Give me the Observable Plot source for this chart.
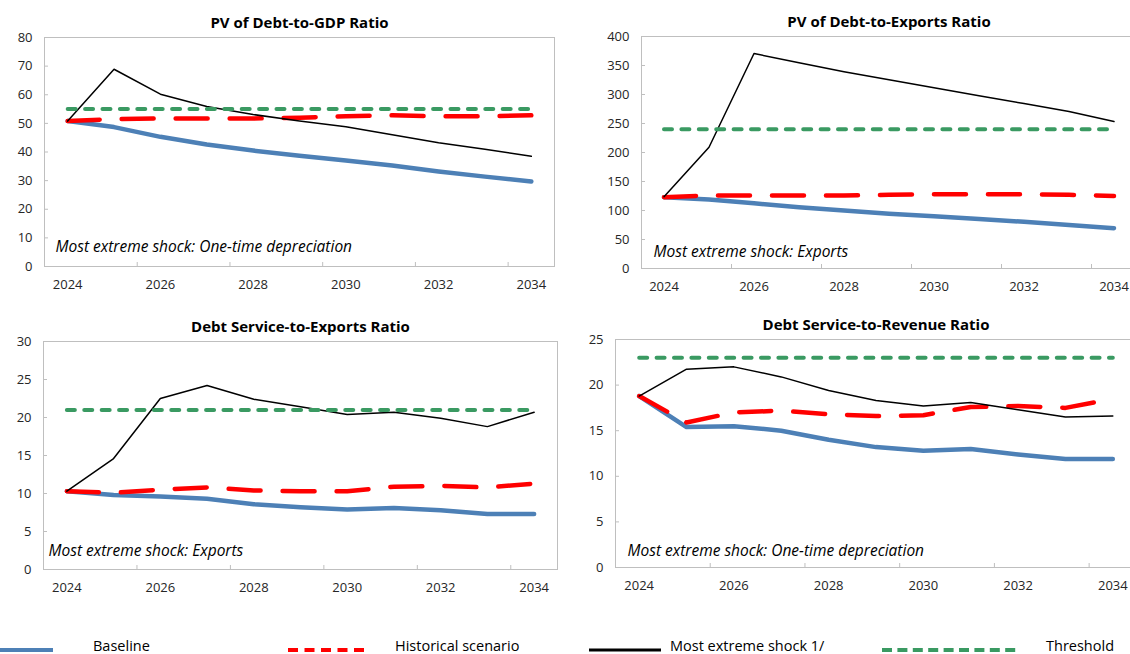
<!DOCTYPE html>
<html>
<head>
<meta charset="utf-8">
<script src="https://cdn.jsdelivr.net/npm/d3@7"></script>
<script src="https://cdn.jsdelivr.net/npm/@observablehq/plot@0.6"></script>
<style>
  body { margin: 0; background: #fff; }
  #wrap { position: relative; width: 1130px; height: 654px; overflow: hidden; font-family: "Open Sans", sans-serif; background: #fff; }
  #wrap > svg, #wrap > figure { position: absolute; margin: 0; }
</style>
</head>
<body>
<div id="wrap"></div>
<script>
// ---------- data ----------
const years = [2024, 2025, 2026, 2027, 2028, 2029, 2030, 2031, 2032, 2033, 2034];
const labelYears = [2024, 2026, 2028, 2030, 2032, 2034];
const tickBoundaries = [2025.5, 2027.5, 2029.5, 2031.5, 2033.5];

const seriesNames = ["Baseline", "Historical scenario", "Most extreme shock 1/", "Threshold"];

// PV of Debt-to-GDP Ratio
const gdpBaseline   = [50.8, 48.7, 45.3, 42.6, 40.5, 38.7, 37.0, 35.3, 33.2, 31.4, 29.7];
const gdpHistorical = [50.8, 51.5, 51.7, 51.7, 51.7, 52.0, 52.5, 52.8, 52.5, 52.5, 52.8];
const gdpShock      = [50.8, 68.9, 60.2, 55.9, 53.1, 50.8, 48.8, 46.0, 43.2, 41.0, 38.5];
const gdpThreshold  = [55, 55, 55, 55, 55, 55, 55, 55, 55, 55, 55];
const gdpTicks      = [0, 10, 20, 30, 40, 50, 60, 70, 80];

// PV of Debt-to-Exports Ratio
const expBaseline   = [123, 119, 112.5, 105.5, 100, 94.5, 90, 85.5, 80.5, 75, 69.5];
const expHistorical = [123, 126, 126, 126, 126, 127, 128, 128, 128, 127, 125];
const expShock      = [123.6, 209, 370.7, 354.7, 339.3, 325.5, 311.5, 298, 284.3, 270.6, 253.4];
const expThreshold  = [240, 240, 240, 240, 240, 240, 240, 240, 240, 240, 240];
const expTicks      = [0, 50, 100, 150, 200, 250, 300, 350, 400];

// Debt Service-to-Exports Ratio
const dsxBaseline   = [10.3, 9.8, 9.6, 9.3, 8.6, 8.2, 7.9, 8.1, 7.8, 7.3, 7.3];
const dsxHistorical = [10.3, 10.1, 10.5, 10.8, 10.4, 10.3, 10.3, 10.9, 11.0, 10.8, 11.3];
const dsxShock      = [10.3, 14.6, 22.5, 24.2, 22.4, 21.4, 20.4, 20.7, 19.9, 18.8, 20.7];
const dsxThreshold  = [21, 21, 21, 21, 21, 21, 21, 21, 21, 21, 21];
const dsxTicks      = [0, 5, 10, 15, 20, 25, 30];

// Debt Service-to-Revenue Ratio
const dsrBaseline   = [18.8, 15.4, 15.5, 15.0, 14.0, 13.2, 12.8, 13.0, 12.4, 11.9, 11.9];
const dsrHistorical = [18.8, 15.9, 17.0, 17.2, 16.8, 16.6, 16.7, 17.6, 17.7, 17.5, 18.5];
const dsrShock      = [18.8, 21.75, 22.0, 20.9, 19.4, 18.3, 17.7, 18.1, 17.3, 16.5, 16.6];
const dsrThreshold  = [23, 23, 23, 23, 23, 23, 23, 23, 23, 23, 23];
const dsrTicks      = [0, 5, 10, 15, 20, 25];

// ---------- styles ----------
const COLORS = { base: "#4d80b6", hist: "#ff0000", shock: "#000000", thr: "#3a9a62", axis: "#bfbfbf", text: "#262626" };

const panels = [
  { title: "PV of Debt-to-GDP Ratio", note: "Most extreme shock: One-time depreciation",
    b: gdpBaseline, h: gdpHistorical, s: gdpShock, t: gdpThreshold, ticks: gdpTicks,
    left: 0, top: 0, width: 565, height: 300, ml: 44, mr: 11, mt: 37, mb: 34, ndx: 11, ndy: -19 },
  { title: "PV of Debt-to-Exports Ratio", note: "Most extreme shock: Exports",
    b: expBaseline, h: expHistorical, s: expShock, t: expThreshold, ticks: expTicks,
    left: 565, top: 0, width: 571, height: 300, ml: 76, mr: 0, mt: 36, mb: 32, ndx: 12, ndy: -16 },
  { title: "Debt Service-to-Exports Ratio", note: "Most extreme shock: Exports",
    b: dsxBaseline, h: dsxHistorical, s: dsxShock, t: dsxThreshold, ticks: dsxTicks,
    left: 0, top: 300, width: 565, height: 300, ml: 43, mr: 8, mt: 41, mb: 31, ndx: 5, ndy: -18 },
  { title: "Debt Service-to-Revenue Ratio", note: "Most extreme shock: One-time depreciation",
    b: dsrBaseline, h: dsrHistorical, s: dsrShock, t: dsrThreshold, ticks: dsrTicks,
    left: 565, top: 300, width: 571, height: 300, ml: 50, mr: 0, mt: 39, mb: 33, ndx: 12, ndy: -16 }
];

const rows = (arr) => years.map((year, i) => ({ year, value: arr[i] }));
const wrap = document.getElementById("wrap");

for (const p of panels) {
  const ymax = p.ticks[p.ticks.length - 1];
  const chart = Plot.plot({
    width: p.width, height: p.height,
    marginLeft: p.ml, marginRight: p.mr, marginTop: p.mt, marginBottom: p.mb,
    style: { fontFamily: "'Open Sans', sans-serif", fontSize: "13px", color: COLORS.text, background: "transparent", overflow: "visible" },
    x: { domain: [years[0] - 0.5, years[years.length - 1] + 0.5], label: null, axis: null },
    y: { domain: [0, ymax], label: null, axis: null },
    marks: [
      Plot.frame({ stroke: COLORS.axis }),
      Plot.axisX(tickBoundaries, { anchor: "bottom", tickSize: 4, dy: -4, tickFormat: () => "", stroke: COLORS.axis, label: null }),
      Plot.axisX(labelYears, { anchor: "bottom", tickSize: 0, tickPadding: 13, tickFormat: "d", fontSize: 13, label: null }),
      Plot.axisY(p.ticks, { anchor: "left", tickSize: 4, dx: 4, tickFormat: () => "", stroke: COLORS.axis, label: null }),
      Plot.axisY(p.ticks, { anchor: "left", tickSize: 0, tickPadding: 12, fontSize: 13, label: null }),
      Plot.line(rows(p.b), { x: "year", y: "value", stroke: COLORS.base, strokeWidth: 4.5, strokeLinejoin: "round", strokeLinecap: "round" }),
      Plot.line(rows(p.h), { x: "year", y: "value", stroke: COLORS.hist, strokeWidth: 4.5, strokeDasharray: "32,22", strokeLinecap: "round", strokeLinejoin: "round" }),
      Plot.line(rows(p.s), { x: "year", y: "value", stroke: COLORS.shock, strokeWidth: 1.5, strokeLinejoin: "round" }),
      Plot.line(rows(p.t), { x: "year", y: "value", stroke: COLORS.thr, strokeWidth: 4, strokeDasharray: "8,9.4", strokeLinecap: "round" }),
      Plot.text([p.title], { frameAnchor: "top", dy: -14, lineAnchor: "middle", fontWeight: "bold", fontSize: 15, fill: "#000" }),
      Plot.text([p.note], { frameAnchor: "bottom-left", textAnchor: "start", lineAnchor: "middle", dx: p.ndx, dy: p.ndy, fontStyle: "italic", fontSize: 15.5, fill: "#000" })
    ]
  });
  chart.style.left = p.left + "px";
  chart.style.top = p.top + "px";
  chart.style.maxWidth = "none";
  wrap.appendChild(chart);
}

// ---------- legend ----------
const legendItems = [
  { name: seriesNames[0], x1: 0,   x2: 53,   tx: 93,   stroke: COLORS.base,  w: 4,   dash: null },
  { name: seriesNames[1], x1: 288, x2: 364,  tx: 395,  stroke: COLORS.hist,  w: 4,   dash: "10,6.5" },
  { name: seriesNames[2], x1: 589, x2: 661,  tx: 670,  stroke: COLORS.shock, w: 3,   dash: null },
  { name: seriesNames[3], x1: 882, x2: 1020, tx: 1046, stroke: COLORS.thr,   w: 4,   dash: "10,5.4" }
];
const ns = "http://www.w3.org/2000/svg";
const leg = document.createElementNS(ns, "svg");
leg.setAttribute("width", 1130);
leg.setAttribute("height", 34);
leg.style.left = "0px";
leg.style.top = "620px";
for (const it of legendItems) {
  const l = document.createElementNS(ns, "line");
  l.setAttribute("x1", it.x1); l.setAttribute("x2", it.x2);
  l.setAttribute("y1", 30); l.setAttribute("y2", 30);
  l.setAttribute("stroke", it.stroke); l.setAttribute("stroke-width", it.w);
  if (it.dash) l.setAttribute("stroke-dasharray", it.dash);
  leg.appendChild(l);
  const t = document.createElementNS(ns, "text");
  t.setAttribute("x", it.tx); t.setAttribute("y", 31);
  t.setAttribute("font-family", "'Open Sans', sans-serif");
  t.setAttribute("font-size", 14.5);
  t.setAttribute("fill", "#000");
  t.textContent = it.name;
  leg.appendChild(t);
}
wrap.appendChild(leg);
</script>
</body>
</html>
